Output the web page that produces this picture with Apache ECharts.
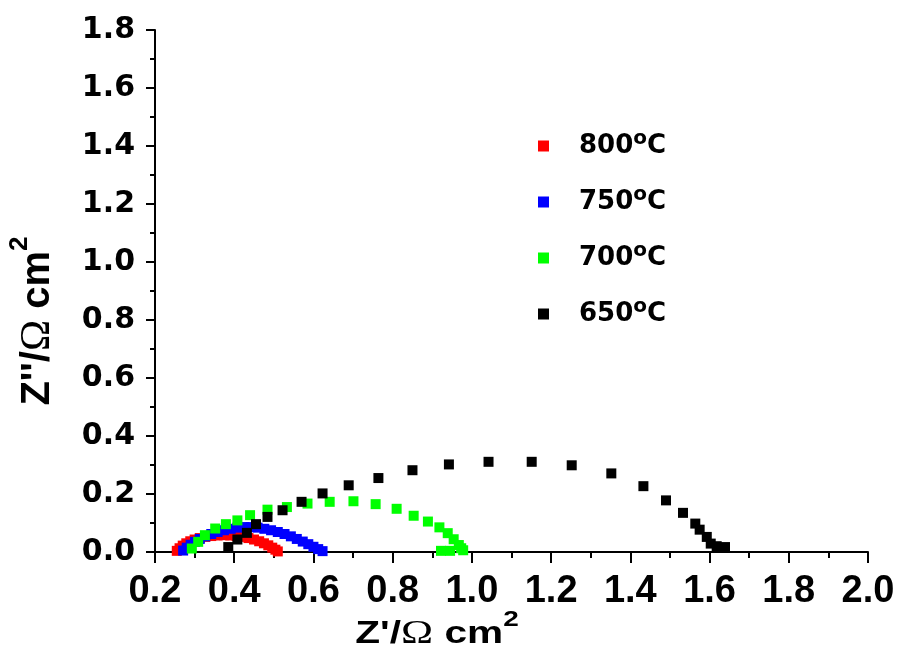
<!DOCTYPE html>
<html>
<head>
<meta charset="utf-8">
<script src="https://cdn.jsdelivr.net/npm/echarts@6/dist/echarts.min.js"></script>
<style>
  html, body { margin: 0; padding: 0; background: #fff; }
  #chart { width: 900px; height: 655px; }
</style>
</head>
<body>
<div id="chart"></div>
<script>
// Impedance spectra (Nyquist plot) at four temperatures: Z' vs Z'' in Ω·cm²
const temps = ['800', '750', '700', '650'];
const colors = ['#ff0000', '#0000ff', '#00ff00', '#000000'];

const re800 = [0.255, 0.262, 0.270, 0.279, 0.289, 0.300, 0.313, 0.327, 0.342, 0.358, 0.374, 0.390, 0.406, 0.421, 0.436, 0.450, 0.463, 0.475, 0.486, 0.496, 0.504, 0.510];
const im800 = [0.004, 0.013, 0.022, 0.030, 0.037, 0.043, 0.048, 0.052, 0.055, 0.057, 0.058, 0.057, 0.055, 0.052, 0.048, 0.043, 0.037, 0.030, 0.023, 0.015, 0.008, 0.002];

const re750 = [0.271, 0.280, 0.290, 0.301, 0.313, 0.327, 0.342, 0.358, 0.374, 0.391, 0.408, 0.425, 0.442, 0.459, 0.476, 0.493, 0.510, 0.527, 0.543, 0.558, 0.573, 0.587, 0.600, 0.612, 0.623];
const im750 = [0.005, 0.015, 0.025, 0.035, 0.045, 0.054, 0.062, 0.069, 0.075, 0.080, 0.084, 0.086, 0.086, 0.084, 0.080, 0.075, 0.069, 0.062, 0.054, 0.045, 0.036, 0.027, 0.018, 0.010, 0.003];

const re700 = [0.293, 0.309, 0.326, 0.352, 0.379, 0.408, 0.440, 0.484, 0.533, 0.585, 0.641, 0.701, 0.757, 0.810, 0.853, 0.889, 0.918, 0.939, 0.954, 0.967, 0.973, 0.978, 0.922, 0.945];
const im700 = [0.012, 0.035, 0.058, 0.081, 0.096, 0.109, 0.127, 0.146, 0.155, 0.167, 0.173, 0.175, 0.165, 0.149, 0.125, 0.105, 0.085, 0.065, 0.044, 0.024, 0.013, 0.006, 0.004, 0.004];

const re650 = [0.385, 0.408, 0.432, 0.455, 0.484, 0.522, 0.570, 0.623, 0.689, 0.764, 0.850, 0.942, 1.042, 1.151, 1.252, 1.352, 1.433, 1.490, 1.533, 1.564, 1.575, 1.593, 1.603, 1.618, 1.639];
const im650 = [0.017, 0.043, 0.066, 0.096, 0.121, 0.144, 0.173, 0.202, 0.230, 0.255, 0.282, 0.302, 0.311, 0.311, 0.299, 0.271, 0.227, 0.178, 0.135, 0.098, 0.077, 0.052, 0.029, 0.020, 0.017];

const xTicks = { min: 0.2, max: 2.0, step: 0.2 };
const yTicks = { min: 0.0, max: 1.8, step: 0.2 };

const reSets = [re800, re750, re700, re650];
const imSets = [im800, im750, im700, im650];

const series = temps.map((t, i) => ({
  name: t,
  type: 'scatter',
  symbol: 'rect',
  symbolSize: 10,
  itemStyle: { color: colors[i], opacity: 1 },
  data: reSets[i].map((x, k) => [x, imSets[i][k]]),
  z: 2 + i
}));

const axisBlack = { color: '#000', width: 2 };

const chart = echarts.init(document.getElementById('chart'), null, { renderer: 'canvas' });
chart.setOption({
  backgroundColor: '#ffffff',
  animation: false,
  grid: { left: 155, right: 32, top: 30, bottom: 103, containLabel: false },
  xAxis: {
    type: 'value',
    min: xTicks.min, max: xTicks.max, interval: xTicks.step,
    axisLine: { show: true, onZero: false, lineStyle: axisBlack },
    axisTick: { show: true, length: 11, lineStyle: axisBlack },
    minorTick: { show: true, splitNumber: 2, length: 6, lineStyle: axisBlack },
    splitLine: { show: false },
    axisLabel: {
      color: '#000', fontFamily: 'Liberation Sans', fontWeight: 'bold', fontSize: 38,
      margin: 21, formatter: v => v.toFixed(1)
    }
  },
  yAxis: {
    type: 'value',
    min: yTicks.min, max: yTicks.max, interval: yTicks.step,
    axisLine: { show: true, onZero: false, lineStyle: axisBlack },
    axisTick: { show: true, length: 9, lineStyle: axisBlack },
    minorTick: { show: true, splitNumber: 2, length: 5, lineStyle: axisBlack },
    splitLine: { show: false },
    axisLabel: {
      color: '#000', fontFamily: 'DejaVu Sans', fontWeight: 'bold', fontSize: 30,
      margin: 20, formatter: v => v.toFixed(1)
    }
  },
  legend: {
    orient: 'vertical',
    left: 533, top: 124,
    itemWidth: 11, itemHeight: 11,
    itemGap: 26,
    icon: 'rect',
    selectedMode: false,
    data: temps,
    formatter: name => `{n|${name}}{s|o}{c|C}`,
    textStyle: {
      color: '#000',
      rich: {
        n: { fontFamily: 'DejaVu Sans', fontWeight: 'bold', fontSize: 26, lineHeight: 34, padding: [0, 0, 0, 25] },
        s: { fontFamily: 'DejaVu Sans', fontWeight: 'bold', fontSize: 20, lineHeight: 20, verticalAlign: 'top' },
        c: { fontFamily: 'DejaVu Sans', fontWeight: 'bold', fontSize: 26, lineHeight: 34 }
      }
    }
  },
  graphic: [
    {
      type: 'text',
      x: 437, y: 634,
      scaleX: 1.27,
      style: {
        text: "{b|Z'/}{o|Ω}{b| cm}{s|2}",
        align: 'center', verticalAlign: 'middle',
        fill: '#000',
        rich: {
          b: { fontFamily: 'Liberation Sans', fontWeight: 'bold', fontSize: 32, lineHeight: 50, fill: '#000' },
          o: { fontFamily: 'Liberation Serif', fontSize: 34, lineHeight: 50, fill: '#000' },
          s: { fontFamily: 'Liberation Sans', fontWeight: 'bold', fontSize: 22, lineHeight: 22, verticalAlign: 'top', fill: '#000' }
        }
      }
    },
    {
      type: 'text',
      x: 38, y: 321,
      rotation: Math.PI / 2,
      style: {
        text: "{b|Z''/}{o|Ω}{b| cm}{s|2}",
        align: 'center', verticalAlign: 'middle',
        fill: '#000',
        rich: {
          b: { fontFamily: 'Liberation Sans', fontWeight: 'bold', fontSize: 40, lineHeight: 62, fill: '#000' },
          o: { fontFamily: 'Liberation Serif', fontSize: 42, lineHeight: 62, fill: '#000' },
          s: { fontFamily: 'Liberation Sans', fontWeight: 'bold', fontSize: 26, lineHeight: 26, verticalAlign: 'top', fill: '#000' }
        }
      }
    }
  ],
  series: series
});
</script>
</body>
</html>
